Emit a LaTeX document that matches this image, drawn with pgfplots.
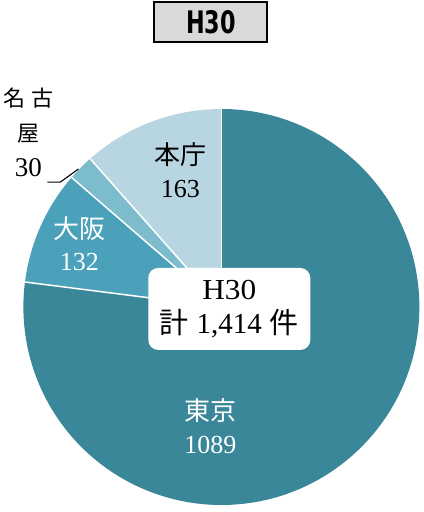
\documentclass[border=0pt]{standalone}
\usepackage{fontspec}
\setmainfont{Liberation Serif}
\newfontfamily\jp{Noto Sans CJK JP}
\newfontfamily\cond{DejaVu Sans Condensed}
\usepackage{pgfplots}
\usepackage{pgfplotstable}
\pgfplotsset{compat=1.18}

\definecolor{ctokyo}{RGB}{58,135,154}
\definecolor{cosaka}{RGB}{74,161,185}
\definecolor{cnagoya}{RGB}{125,188,205}
\definecolor{choncho}{RGB}{184,214,225}
\definecolor{titlegray}{RGB}{217,217,217}

\pgfplotstableread{
name   value
Tokyo  1089
Osaka  132
Nagoya 30
Honcho 163
}\pietable

\begin{document}
\begin{tikzpicture}
\pgfplotstablegetelem{0}{value}\of\pietable\edef\vA{\pgfplotsretval}
\pgfplotstablegetelem{1}{value}\of\pietable\edef\vB{\pgfplotsretval}
\pgfplotstablegetelem{2}{value}\of\pietable\edef\vC{\pgfplotsretval}
\pgfplotstablegetelem{3}{value}\of\pietable\edef\vD{\pgfplotsretval}
\pgfmathsetmacro\tot{\vA+\vB+\vC+\vD}
% clockwise from 12 o'clock
\pgfmathsetmacro\aA{90}
\pgfmathsetmacro\aB{\aA-360*(\vA/\tot)}
\pgfmathsetmacro\aC{\aB-360*(\vB/\tot)}
\pgfmathsetmacro\aD{\aC-360*(\vC/\tot)}
\pgfmathsetmacro\aE{\aD-360*(\vD/\tot)}
\def\R{198pt}
\begin{axis}[
  x=198pt, y=198pt,
  xmin=-1.1162, xmax=1.0202,
  ymin=-1.0354, ymax=1.5505,
  hide axis, clip=false, disabledatascaling]
\path (rel axis cs:0,0) rectangle (rel axis cs:1,1);
% wedges
\fill[ctokyo] (axis cs:0,0) -- (axis cs:{cos(\aA)},{sin(\aA)})
  arc[start angle=\aA,end angle=\aB,radius=\R] -- cycle;
\fill[cosaka] (axis cs:0,0) -- (axis cs:{cos(\aB)},{sin(\aB)})
  arc[start angle=\aB,end angle=\aC,radius=\R] -- cycle;
\fill[cnagoya] (axis cs:0,0) -- (axis cs:{cos(\aC)},{sin(\aC)})
  arc[start angle=\aC,end angle=\aD,radius=\R] -- cycle;
\fill[choncho] (axis cs:0,0) -- (axis cs:{cos(\aD)},{sin(\aD)})
  arc[start angle=\aD,end angle=\aE,radius=\R] -- cycle;
% separators
\draw[white,line width=1.5pt] (axis cs:0,0) -- (axis cs:{cos(\aA)},{sin(\aA)});
\draw[white,line width=1.5pt] (axis cs:0,0) -- (axis cs:{cos(\aB)},{sin(\aB)});
\draw[white,line width=1.5pt] (axis cs:0,0) -- (axis cs:{cos(\aC)},{sin(\aC)});
\draw[white,line width=1.5pt] (axis cs:0,0) -- (axis cs:{cos(\aD)},{sin(\aD)});
% labels
\node[align=center,text=white,font=\fontsize{26}{33}\selectfont]
  at (axis cs:-0.056,-0.601) {{\jp 東京}\\1089};
\node[align=center,text=white,font=\fontsize{26}{32}\selectfont]
  at (axis cs:-0.717,0.318) {{\jp 大阪}\\132};
\node[align=center,text=black,font=\fontsize{26}{33}\selectfont]
  at (axis cs:-0.207,0.692) {{\jp 本庁}\\163};
\node[align=center,text=black,font=\fontsize{22}{35}\selectfont]
  at (axis cs:-0.975,0.884) {{\jp 名\hspace{6pt}古}\\{\jp 屋}\\{\fontsize{27}{35}\selectfont 30}};
\draw[black,line width=1.1pt] (axis cs:-0.879,0.631) -- (axis cs:-0.813,0.631)
  -- (axis cs:-0.722,0.697);
% centre box
\node[fill=white,rounded corners=10pt,minimum width=162pt,minimum height=82pt,
  align=center,font=\fontsize{29}{34}\selectfont]
  at (axis cs:0.040,-0.010) {\scalebox{1.08}[1]{H30}\\{\jp 計}\hspace{8pt}1,414\hspace{8pt}{\jp 件}};
% title box
\node[fill=titlegray,draw=black,line width=2pt,minimum width=113pt,minimum height=40pt,
  font=\cond\bfseries\fontsize{31}{31}\selectfont]
  at (axis cs:-0.053,1.439) {\scalebox{0.8}[1]{H30}};
\end{axis}
\end{tikzpicture}
\end{document}
